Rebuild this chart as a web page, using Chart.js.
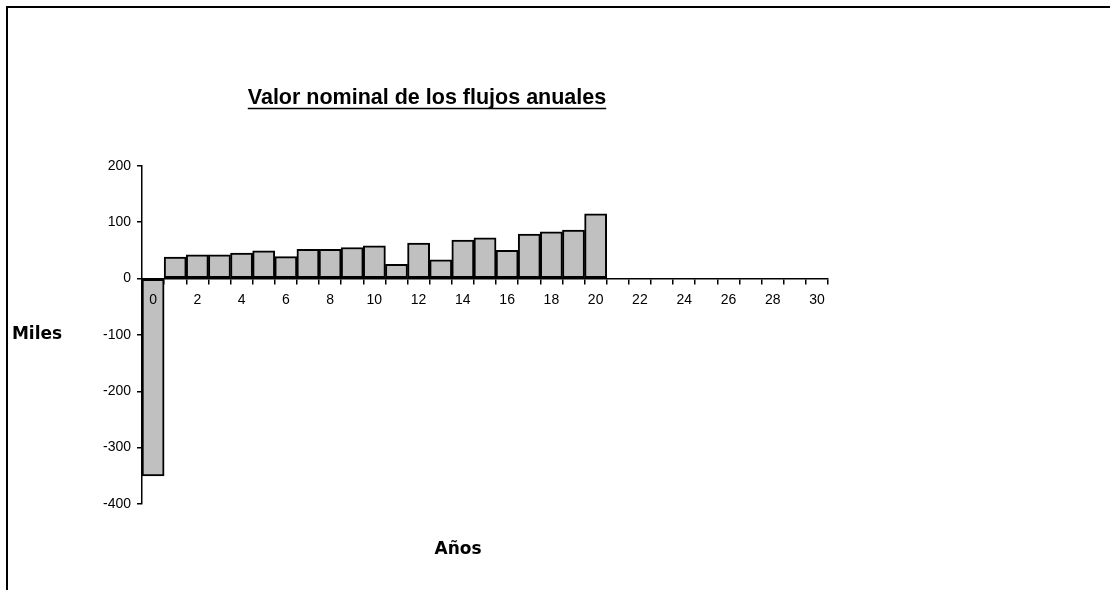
<!DOCTYPE html>
<html>
<head>
  <title>Valor nominal de los flujos anuales</title>
  <script src="https://cdn.jsdelivr.net/npm/chart.js"></script>
  <style>
    body { margin: 0; background: #fff; }
    #frame { position: absolute; left: 6px; top: 6px; width: 1104px; height: 584px;
             border-top: 2px solid #000; border-left: 2px solid #000; }
    #chart { position: absolute; left: 0; top: 0; }
  </style>
</head>
<body>
  <div id="frame"></div>
  <canvas id="chart" width="1110" height="590"></canvas>

  <script>
    const years = [];
    for (let i = 0; i <= 30; i++) years.push(String(i));

    // flujos en miles
    const flujos = [-350, 38, 42, 42, 45, 49, 39, 52, 52, 55, 58,
                    25, 63, 33, 68, 72, 50, 79, 83, 86, 115,
                    0, 0, 0, 0, 0, 0, 0, 0, 0, 0];

    const yTicks = [-400, -300, -200, -100, 0, 100, 200];

    const titleText = 'Valor nominal de los flujos anuales';
    const yTitle = 'Miles';
    const xTitle = 'Años';

    // underline for the title + the two axis captions
    const extras = {
      id: 'extras',
      afterDraw(chart) {
        const ctx = chart.ctx;
        const tb = chart.titleBlock;
        ctx.save();
        ctx.font = 'bold 21.5px "Liberation Sans", Arial, sans-serif';
        const w = ctx.measureText(titleText).width;
        const cx = tb.left + tb.width / 2;
        ctx.strokeStyle = '#000';
        ctx.lineWidth = 1.5;
        ctx.beginPath();
        ctx.moveTo(cx - w / 2, 108.5);
        ctx.lineTo(cx + w / 2, 108.5);
        ctx.stroke();

        ctx.fillStyle = '#000';
        ctx.font = 'bold 17px "DejaVu Sans", sans-serif';
        ctx.textAlign = 'center';
        ctx.textBaseline = 'middle';
        ctx.fillText(yTitle, 37, 335);
        ctx.fillText(xTitle, 458, 550);
        ctx.restore();
      }
    };

    new Chart(document.getElementById('chart'), {
      type: 'bar',
      data: {
        labels: years,
        datasets: [{
          data: flujos,
          backgroundColor: '#c0c0c0',
          borderColor: '#000',
          borderWidth: 2,
          borderSkipped: false,
          categoryPercentage: 1,
          barPercentage: 1
        }]
      },
      options: {
        responsive: false,
        animation: false,
        layout: { padding: { left: 26, right: 282, top: 0, bottom: 86 } },
        plugins: {
          legend: { display: false },
          tooltip: { enabled: false },
          title: {
            display: true,
            text: titleText,
            color: '#000',
            font: { family: '"Liberation Sans", Arial, sans-serif', size: 21.5, weight: 'bold' },
            padding: { top: 85, bottom: 55 }
          }
        },
        scales: {
          x: {
            position: { y: 0 },
            offset: true,
            grid: { offset: true, drawOnChartArea: false, drawTicks: true, tickLength: 5, color: '#000', lineWidth: 1.5 },
            border: { display: true, color: '#000', width: 1.5, z: 1 },
            ticks: {
              z: 1,
              autoSkip: false,
              maxRotation: 0,
              padding: 8,
              color: '#000',
              font: { family: '"Liberation Sans", Arial, sans-serif', size: 14 },
              callback: (v, i) => (i % 2 === 0 ? years[i] : '')
            }
          },
          y: {
            min: -400,
            max: 200,
            afterFit: (s) => { s.width = 116; },
            afterBuildTicks: (s) => { s.ticks = yTicks.map(v => ({ value: v })); },
            grid: { drawOnChartArea: false, drawTicks: true, tickLength: 5, color: '#000', lineWidth: 1.5 },
            border: { display: true, color: '#000', width: 1.5, z: 1 },
            ticks: {
              padding: 6,
              color: '#000',
              font: { family: '"Liberation Sans", Arial, sans-serif', size: 14 }
            }
          }
        }
      },
      plugins: [extras]
    });
  </script>
</body>
</html>
